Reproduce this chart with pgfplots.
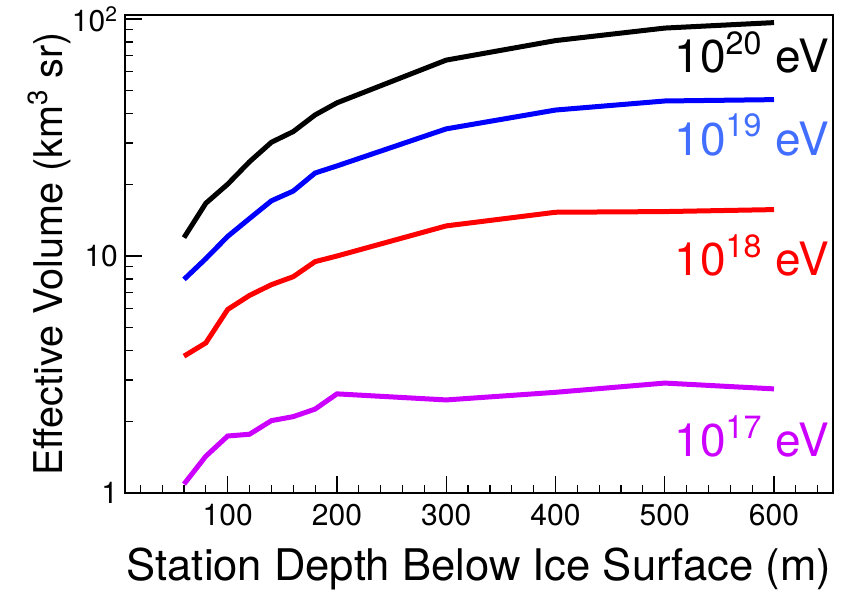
\documentclass[border=0pt]{standalone}
\usepackage{pgfplots}
\pgfplotsset{compat=1.18}
\usepackage{fontspec}
\setmainfont{TeX Gyre Heros}
\definecolor{cblue}{RGB}{0,0,255}
\definecolor{lblue}{RGB}{66,110,255}
\definecolor{cred}{RGB}{255,0,0}
\definecolor{cpurp}{RGB}{204,0,255}
\begin{document}
\begin{tikzpicture}
\path[use as bounding box] (-62.5pt,-48.5pt) rectangle (360.5pt,246.5pt);
\begin{axis}[
  at={(0,0)}, anchor=south west,
  width=354pt, height=239pt, scale only axis,
  xmin=6, xmax=654, ymode=log, ymin=1, ymax=104,
  xtick={100,200,300,400,500,600},
  minor xtick={20,40,60,80,120,140,160,180,220,240,260,280,320,340,360,380,420,440,460,480,520,540,560,580,620,640},
  ytick={1,10,100}, yticklabels={1,10,10\textsuperscript{2}},
  minor ytick={2,3,4,5,6,7,8,9,20,30,40,50,60,70,80,90},
  xtick pos=bottom, ytick pos=left,
  tick align=inside, major tick length=8.5pt, minor tick length=4pt,
  every tick/.style={black, line width=0.6pt},
  axis line style={line width=0.7pt},
  /pgf/number format/assume math mode=true,
  tick label style={font=\fontsize{15}{18}\selectfont},
  xticklabel style={yshift=-2pt},
  xlabel={Station Depth Below Ice Surface (m)},
  ylabel={Effective Volume (km\textsuperscript{3} sr)},
  xlabel style={font=\fontsize{21.8}{25}\selectfont, at={([yshift=-43.5pt]axis description cs:0.5,0)}, anchor=base},
  ylabel style={font=\fontsize{19.8}{23}\selectfont, at={([xshift=-31pt]axis description cs:0,0.5)}, anchor=base},
  every axis plot/.style={line width=2.5pt, line join=miter, no markers},
  clip=false,
]
\addplot[color=black] coordinates {(60,11.96) (80,16.7) (100,20.1) (120,25.0) (140,30.2) (160,33.5) (180,39.4) (200,44.3) (300,67.1) (400,81.1) (500,91.6) (600,96.6)};
\addplot[color=cblue] coordinates {(60,7.97) (80,9.75) (100,12.1) (120,14.4) (140,17.1) (160,18.8) (180,22.4) (200,24.0) (300,34.4) (400,41.3) (500,45.1) (600,45.7)};
\addplot[color=cred] coordinates {(60,3.78) (80,4.30) (100,5.95) (120,6.82) (140,7.57) (160,8.18) (180,9.47) (200,10.0) (300,13.4) (400,15.3) (500,15.4) (600,15.7)};
\addplot[color=cpurp] coordinates {(60,1.09) (80,1.43) (100,1.74) (120,1.77) (140,2.02) (160,2.10) (180,2.26) (200,2.62) (300,2.47) (400,2.66) (500,2.91) (600,2.75)};
\node[anchor=base east, inner sep=0pt, text=black, font=\fontsize{23}{27}\selectfont] at (rel axis cs:0.995,0.879) {10\textsuperscript{20} eV};
\node[anchor=base east, inner sep=0pt, text=lblue, font=\fontsize{23}{27}\selectfont] at (rel axis cs:0.995,0.707) {10\textsuperscript{19} eV};
\node[anchor=base east, inner sep=0pt, text=cred, font=\fontsize{23}{27}\selectfont] at (rel axis cs:0.995,0.454) {10\textsuperscript{18} eV};
\node[anchor=base east, inner sep=0pt, text=cpurp, font=\fontsize{23}{27}\selectfont] at (rel axis cs:0.995,0.077) {10\textsuperscript{17} eV};
\end{axis}
\end{tikzpicture}
\end{document}
